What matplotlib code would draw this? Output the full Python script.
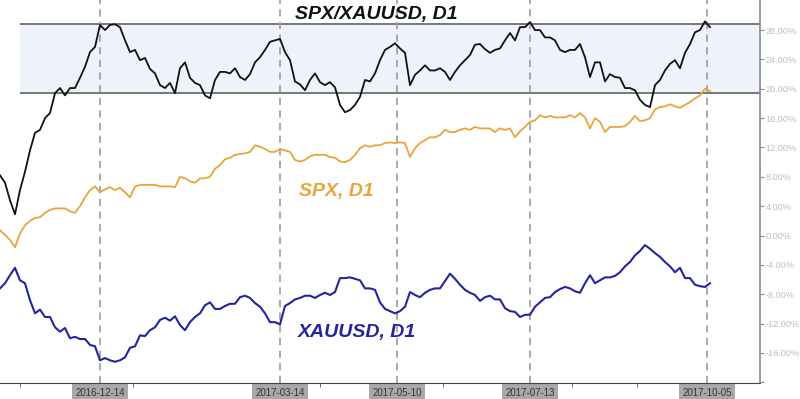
"""SPX vs gold (XAUUSD) and their ratio, daily % change chart."""

import matplotlib

matplotlib.use("Agg")
import matplotlib.pyplot as plt
import numpy as np

plt.rcParams["font.family"] = ["Liberation Sans", "DejaVu Sans"]

# % change readings, one every ~2 sessions, late Oct 2016 -> early Oct 2017
ratio = [
    8.2, 7.2, 4.8, 2.9, 6.2, 8.7, 11.6, 14.0, 14.4, 16.0,
    16.7, 19.4, 20.1, 19.1, 20.1, 20.1, 21.5, 23.0, 25.0, 25.7,
    28.7, 28.0, 28.7, 28.8, 28.4, 26.6, 25.0, 25.3, 23.9, 24.2,
    22.7, 22.1, 20.5, 20.1, 20.8, 19.4, 22.8, 23.6, 21.5, 20.8,
    20.5, 19.1, 18.7, 21.2, 22.3, 22.3, 22.1, 22.8, 21.6, 21.2,
    22.0, 23.6, 24.3, 25.3, 26.4, 26.6, 26.8, 25.0, 23.9, 21.0,
    20.6, 19.8, 21.2, 22.1, 20.9, 20.5, 20.9, 20.2, 17.8, 16.8,
    17.1, 17.8, 18.9, 21.2, 21.0, 22.1, 23.9, 25.3, 25.7, 26.2,
    25.5, 24.9, 20.5, 21.9, 22.5, 23.2, 22.5, 22.5, 22.8, 22.3,
    21.2, 22.3, 23.2, 23.9, 24.6, 26.0, 26.1, 25.4, 24.9, 25.3,
    25.5, 26.6, 27.6, 26.6, 28.4, 28.4, 29.1, 28.0, 28.0, 27.0,
    27.0, 26.6, 25.3, 25.0, 25.3, 25.3, 26.1, 24.3, 21.6, 23.6,
    23.6, 21.0, 22.0, 21.6, 21.5, 20.1, 20.1, 19.8, 18.5, 17.8,
    17.5, 20.5, 21.2, 22.5, 23.4, 23.9, 22.8, 24.9, 26.1, 27.7,
    28.0, 29.2, 28.4,
]
spx = [
    0.7, 0.1, -0.6, -1.6, 0.3, 1.4, 2.0, 2.4, 2.5, 3.1,
    3.5, 3.7, 3.7, 3.7, 3.3, 3.1, 4.0, 5.2, 6.2, 6.7,
    5.9, 6.3, 6.6, 6.2, 6.5, 5.9, 5.2, 6.7, 6.9, 6.9,
    6.9, 6.9, 6.7, 6.7, 6.7, 6.6, 8.0, 7.8, 7.4, 7.2,
    7.8, 7.8, 8.0, 9.1, 9.6, 10.4, 10.6, 11.0, 11.1, 11.2,
    11.4, 12.3, 12.1, 11.8, 11.4, 11.4, 11.8, 11.6, 11.4, 10.3,
    10.1, 10.3, 10.8, 11.0, 11.0, 11.0, 10.7, 10.6, 10.1, 10.0,
    10.3, 11.0, 11.9, 12.3, 12.1, 12.3, 12.3, 12.6, 12.7, 12.6,
    12.7, 12.6, 10.7, 11.9, 12.6, 13.0, 13.4, 13.4, 13.7, 14.4,
    14.1, 14.1, 14.4, 14.6, 14.4, 14.8, 14.6, 14.6, 14.6, 14.1,
    14.6, 14.4, 14.6, 13.4, 14.2, 14.8, 15.5, 15.7, 16.4, 16.1,
    16.3, 16.1, 16.1, 16.1, 16.4, 16.1, 16.7, 16.1, 14.6, 16.0,
    15.5, 14.1, 14.8, 14.8, 14.8, 14.9, 15.5, 16.3, 15.6, 15.7,
    16.0, 17.2, 17.5, 17.6, 17.9, 17.6, 17.4, 17.8, 18.2, 18.7,
    19.1, 20.0, 19.7,
]
xauusd = [
    -7.2, -6.5, -5.4, -4.4, -6.1, -6.5, -8.8, -10.6, -10.1, -11.1,
    -11.1, -12.5, -13.1, -12.6, -14.0, -13.8, -14.1, -14.1, -14.9, -15.1,
    -17.0, -16.7, -17.0, -17.2, -17.0, -16.6, -15.3, -15.1, -13.6, -13.7,
    -12.9, -12.5, -11.5, -11.2, -11.6, -11.0, -12.2, -12.9, -11.8, -11.1,
    -10.6, -9.5, -9.1, -10.0, -10.0, -9.6, -9.3, -9.3, -8.4, -8.2,
    -8.5, -9.2, -9.7, -10.6, -11.8, -11.8, -12.1, -9.6, -9.2, -8.7,
    -8.5, -8.2, -8.2, -8.5, -8.1, -7.8, -8.1, -7.7, -5.8, -5.8,
    -5.7, -5.9, -6.1, -7.2, -7.2, -7.4, -9.1, -10.0, -10.3, -10.6,
    -10.3, -9.7, -7.7, -8.1, -8.4, -7.8, -7.4, -7.2, -7.2, -6.2,
    -5.2, -5.9, -6.7, -7.4, -7.8, -8.1, -8.9, -8.4, -8.2, -8.7,
    -8.7, -9.9, -10.3, -10.4, -11.1, -10.8, -10.8, -9.7, -9.1, -8.5,
    -8.4, -7.7, -7.3, -7.0, -7.2, -7.6, -7.8, -6.5, -5.4, -6.5,
    -6.1, -5.7, -5.7, -5.5, -5.0, -4.2, -3.6, -2.7, -2.1, -1.3,
    -1.8, -2.4, -2.9, -3.6, -4.2, -5.0, -4.4, -5.8, -5.8, -6.7,
    -6.9, -7.0, -6.5,
]

# ratio trading range
band_low, band_high = 19.4, 28.8

date_labels = ["2016-12-14", "2017-03-14", "2017-05-10", "2017-07-13", "2017-10-05"]
date_idx = [20, 56, 79.4, 106, 141.4]
minor_idx = [4, 26.6, 64, 88.6, 114.4, 127.4]
y_ticks = np.arange(-20, 29, 4)

fig = plt.figure(figsize=(8, 3.99), dpi=100)
ax = fig.add_axes([0, 0.04, 0.95, 0.96])

x = np.arange(len(ratio))
ax.set_xlim(0, 152)
ax.set_ylim(-20.1, 32.1)

# shaded range for the ratio
ax.fill_between([4, 152], band_low, band_high, color="#edf2fb", zorder=0)
ax.hlines([band_low, band_high], 4, 152, color="#6e6e6e", lw=1.3, zorder=1)

for i in date_idx:
    ax.axvline(i, color="#a3a3a3", lw=1.3, linestyle=(0, (4, 3)), zorder=1)

ax.plot(x, ratio, color="#111111", lw=1.3, zorder=3)
ax.plot(x, spx, color="#e9a43c", lw=1.3, zorder=3)
ax.plot(x, xauusd, color="#2424a0", lw=1.5, zorder=3)

label_kw = dict(transform=ax.transAxes, fontsize=14, fontweight="bold",
                fontstyle="italic", ha="center", va="center")
ax.text(0.495, 0.961, "SPX/XAUUSD, D1", color="#111111", **label_kw)
ax.text(0.442, 0.501, "SPX, D1", color="#e9a43c", **label_kw)
ax.text(0.470, 0.131, "XAUUSD, D1", color="#2424a0", **label_kw)

# axes styling
for side in ("left", "top"):
    ax.spines[side].set_visible(False)
ax.spines["right"].set_color("#8a8a8a")
ax.spines["right"].set_linewidth(1.2)
ax.spines["bottom"].set_color("#444444")

ax.yaxis.tick_right()
ax.set_yticks(y_ticks)
ax.set_yticklabels(["" if v == -20 else f"{v:.2f}%" for v in y_ticks])
ax.tick_params(axis="y", length=3, color="#8a8a8a", labelsize=6.6,
               labelcolor="#bdbdbd", pad=1)

ax.set_xticks(date_idx)
ax.set_xticklabels(date_labels)
ax.set_xticks(minor_idx, minor=True)
ax.tick_params(axis="x", which="major", length=2, color="#555555",
               labelsize=7, labelcolor="#333333", pad=1.5)
ax.tick_params(axis="x", which="minor", length=3, color="#555555")
for lab in ax.get_xticklabels():
    lab.set_bbox(dict(facecolor="#a8a8a8", edgecolor="none", pad=2.5))

fig.savefig("out.png", dpi=100)
